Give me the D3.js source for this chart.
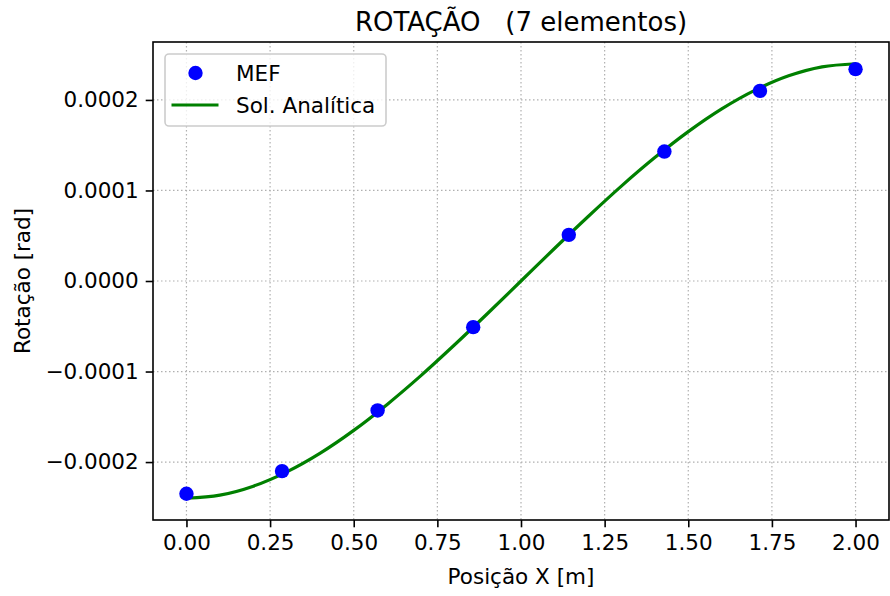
<!DOCTYPE html>
<html><head><meta charset="utf-8">
<script src="https://cdn.jsdelivr.net/npm/d3@7"></script>
<style>
html,body{margin:0;padding:0;background:#fff;}
text{font-family:"DejaVu Sans",sans-serif;fill:#000;}
</style></head>
<body><svg id="c" width="890" height="596"></svg>
<script>
const xFEM = [0, 0.2857, 0.5714, 0.8571, 1.1429, 1.4286, 1.7143, 2.0];
const rotFEM = [-2.35e-4, -2.10e-4, -1.43e-4, -5.1e-5, 5.1e-5, 1.43e-4, 2.10e-4, 2.34e-4];
const xAna = [0,0.1,0.2,0.3,0.4,0.5,0.6,0.7,0.8,0.9,1.0,1.1,1.2,1.3,1.4,1.5,1.6,1.7,1.8,1.9,2.0];
const rotAna = [-2.400e-4,-2.365e-4,-2.266e-4,-2.108e-4,-1.901e-4,-1.650e-4,-1.363e-4,-1.048e-4,-0.710e-4,-0.359e-4,0,
  0.359e-4,0.710e-4,1.048e-4,1.363e-4,1.650e-4,1.901e-4,2.108e-4,2.266e-4,2.365e-4,2.400e-4];
const xTicks = [0,0.25,0.5,0.75,1.0,1.25,1.5,1.75,2.0];
const yTicks = [-2e-4,-1e-4,0,1e-4,2e-4];
const titleText = "ROTAÇÃO   (7 elementos)";
const xLabel = "Posição X [m]";
const yLabel = "Rotação [rad]";
const legendLabels = ["MEF","Sol. Analítica"];

const svg = d3.select("#c");
const L=153,R=889,T=42,B=520;
const x = d3.scaleLinear().domain([-0.1,2.1]).range([L,R]);
const y = d3.scaleLinear().domain([-2.64e-4,2.64e-4]).range([B,T]);
const fs = 21.5;

// grid
const g = svg.append("g");
g.selectAll("line.gx").data(xTicks).join("line")
 .attr("x1",d=>x(d)).attr("x2",d=>x(d)).attr("y1",T).attr("y2",B)
 .attr("stroke","#b0b0b0").attr("stroke-width",1.2).attr("stroke-dasharray","1.5,2.5");
g.selectAll("line.gy").data(yTicks).join("line")
 .attr("y1",d=>y(d)).attr("y2",d=>y(d)).attr("x1",L).attr("x2",R)
 .attr("stroke","#b0b0b0").attr("stroke-width",1.2).attr("stroke-dasharray","1.5,2.5");

// line
const line = d3.line().x((d,i)=>x(xAna[i])).y(d=>y(d)).curve(d3.curveCatmullRom);
svg.append("path").datum(rotAna).attr("d",line).attr("fill","none")
 .attr("stroke","#008000").attr("stroke-width",3.2);

// points
svg.selectAll("circle.p").data(rotFEM).join("circle")
 .attr("cx",(d,i)=>x(xFEM[i])).attr("cy",d=>y(d)).attr("r",7.2).attr("fill","#0000ff");

// axes
const fmtY = v => (v<0?"\u2212":"") + Math.abs(v).toFixed(4);
const ax = svg.append("g").attr("transform",`translate(0,${B})`)
 .call(d3.axisBottom(x).tickValues(xTicks).tickFormat(d3.format(".2f")).tickSizeOuter(0).tickSize(7.3).tickPadding(7));
const ay = svg.append("g").attr("transform",`translate(${L},0)`)
 .call(d3.axisLeft(y).tickValues(yTicks).tickFormat(fmtY).tickSizeOuter(0).tickSize(7.3).tickPadding(7));
[ax,ay].forEach(a=>{
  a.select(".domain").remove();
  a.selectAll(".tick line").attr("stroke","#000").attr("stroke-width",1.6);
  a.selectAll(".tick text").attr("font-size",fs).attr("font-family","DejaVu Sans").attr("fill","#000");
});
// frame
svg.append("rect").attr("x",L).attr("y",T).attr("width",R-L).attr("height",B-T)
 .attr("fill","none").attr("stroke","#000").attr("stroke-width",1.6);

// labels
svg.append("text").attr("x",(L+R)/2).attr("y",31).attr("text-anchor","middle")
 .attr("font-size",26).style("white-space","pre").attr("xml:space","preserve").text(titleText);
svg.append("text").attr("x",(L+R)/2).attr("y",584).attr("text-anchor","middle")
 .attr("font-size",fs).text(xLabel);
svg.append("text").attr("transform",`translate(30,${(T+B)/2}) rotate(-90)`).attr("text-anchor","middle")
 .attr("font-size",fs).text(yLabel);

// legend
const lg = svg.append("g");
lg.append("rect").attr("x",165).attr("y",54).attr("width",221).attr("height",72).attr("rx",4)
 .attr("fill","#fff").attr("fill-opacity",0.8).attr("stroke","#cccccc").attr("stroke-width",1.6);
lg.append("circle").attr("cx",195.5).attr("cy",73).attr("r",7.2).attr("fill","#0000ff");
lg.append("line").attr("x1",171.5).attr("x2",218.5).attr("y1",105).attr("y2",105)
 .attr("stroke","#008000").attr("stroke-width",3.2);
lg.append("text").attr("x",236).attr("y",73).attr("dy","0.36em").attr("font-size",fs).text(legendLabels[0]);
lg.append("text").attr("x",236).attr("y",105).attr("dy","0.36em").attr("font-size",fs).text(legendLabels[1]);
</script></body></html>
